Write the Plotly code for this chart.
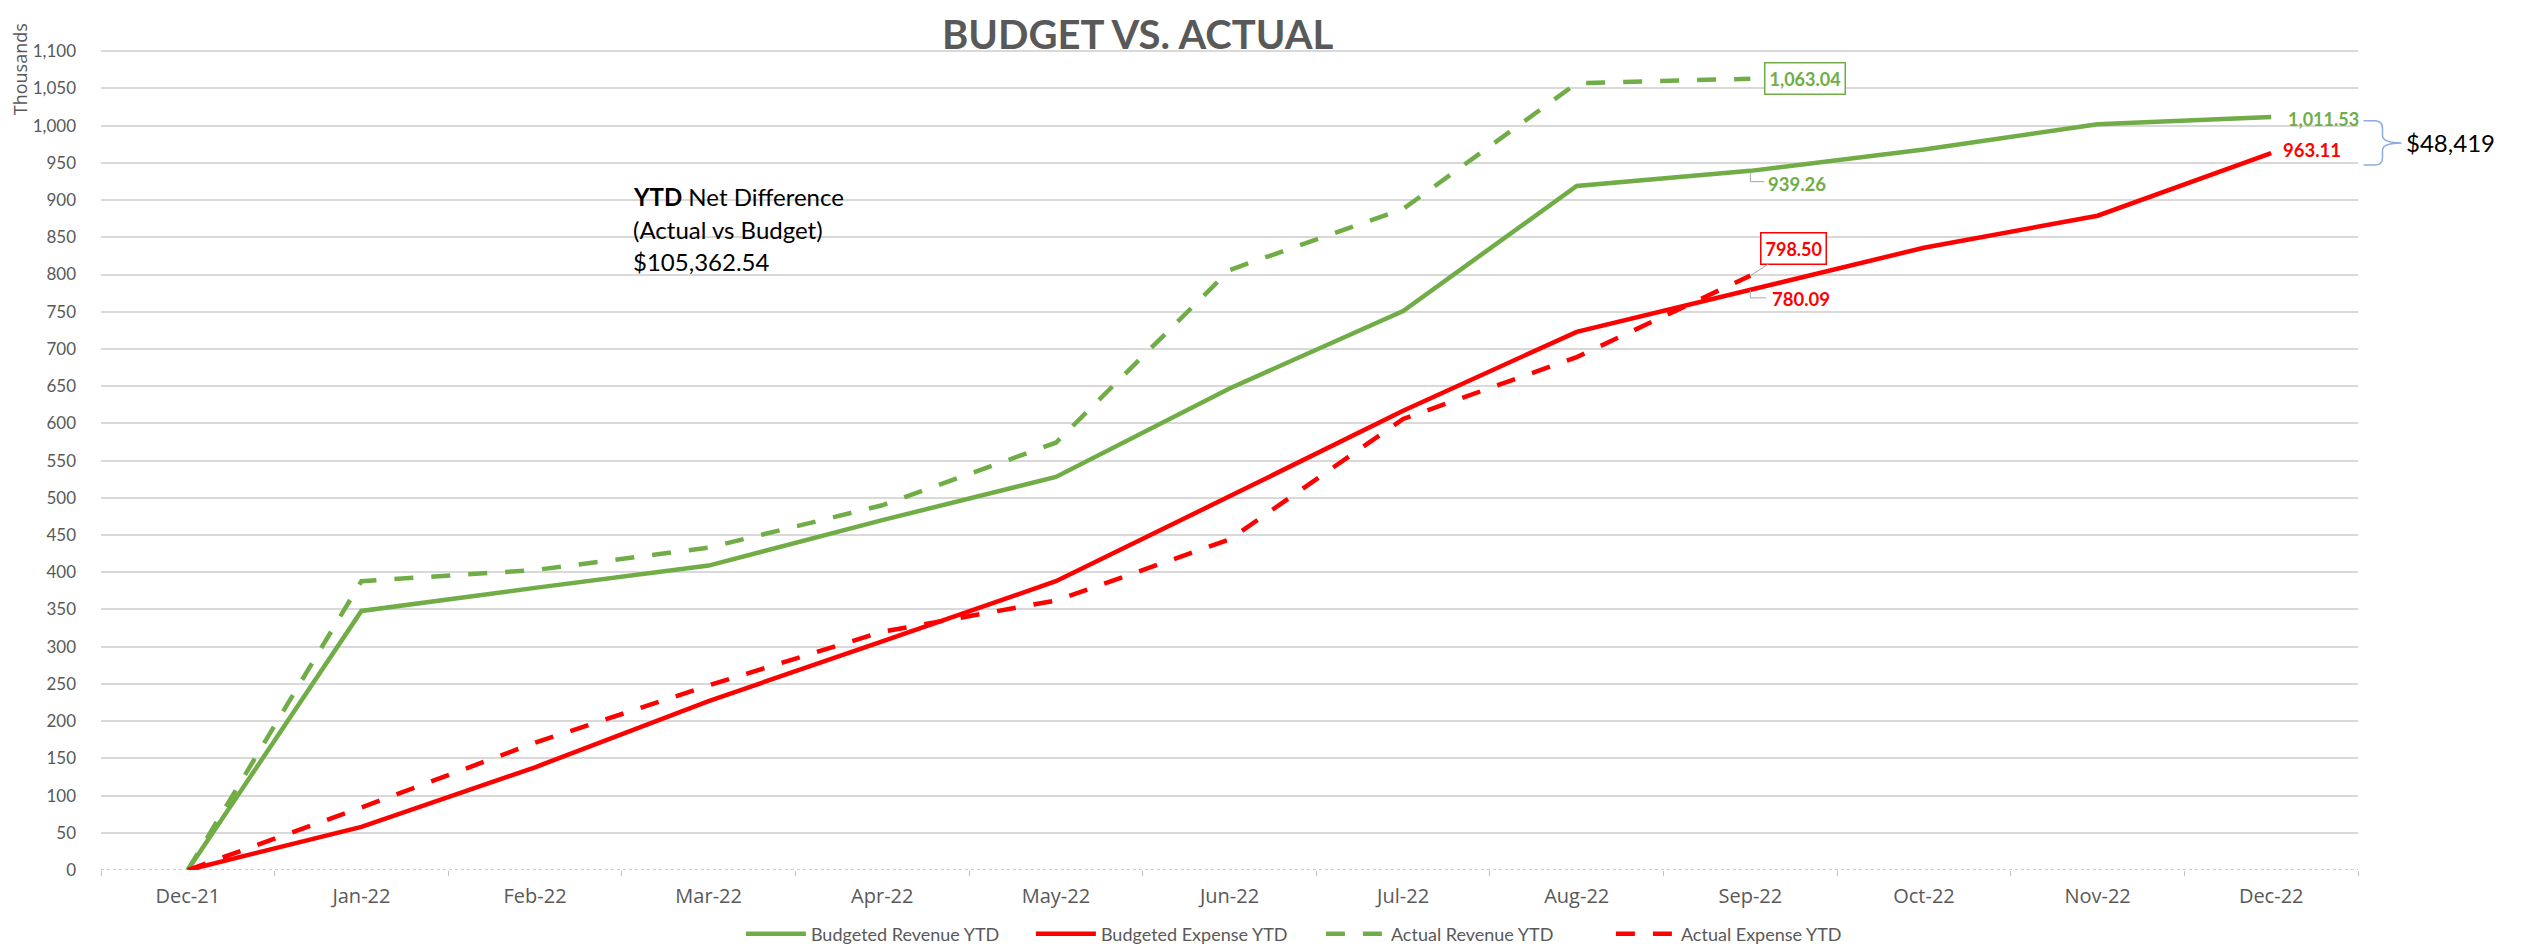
import plotly.graph_objects as go

months = ["Dec-21", "Jan-22", "Feb-22", "Mar-22", "Apr-22", "May-22", "Jun-22",
          "Jul-22", "Aug-22", "Sep-22", "Oct-22", "Nov-22", "Dec-22"]
budget_rev = [0, 348, 379, 409, 470, 528, 647, 751, 919, 939.26, 968, 1002, 1011.53]
budget_exp = [0, 58, 138, 227, 307, 388, 502, 617, 723, 780.09, 836, 879, 963.11]
actual_rev = [0, 388, 403, 433, 490, 574, 806, 888, 1057, 1063.04]
actual_exp = [0, 84, 171, 248, 320, 362, 444, 606, 689, 798.50]

net_diff_text = "$105,362.54"
year_end_gap = "$48,419"

GREEN = "#70AD47"
RED = "#FF0000"
GRAY = "#595959"
FONT = "Lato, 'Open Sans', sans-serif"

fig = go.Figure()
fig.add_trace(go.Scatter(x=months, y=budget_rev, name="Budgeted Revenue YTD", mode="lines",
                         line=dict(color=GREEN, width=4.5)))
fig.add_trace(go.Scatter(x=months, y=budget_exp, name="Budgeted Expense YTD", mode="lines",
                         line=dict(color=RED, width=4.5)))
fig.add_trace(go.Scatter(x=months[:len(actual_rev)], y=actual_rev, name="Actual Revenue YTD", mode="lines",
                         line=dict(color=GREEN, width=4.5, dash="19px,18px")))
fig.add_trace(go.Scatter(x=months[:len(actual_exp)], y=actual_exp, name="Actual Expense YTD", mode="lines",
                         line=dict(color=RED, width=4.5, dash="19px,18px")))

sep = months[9]
dec = months[-1]
ann = []
# title
ann.append(dict(text="<b>BUDGET VS. ACTUAL</b>", x=0.4595, y=1.0074, xref="paper", yref="paper",
                xanchor="center", yanchor="top", showarrow=False,
                font=dict(family=FONT, size=40, color=GRAY)))
# y axis title
ann.append(dict(text="Thousands", x=-0.0361, y=0.9349, xref="paper", yref="paper", textangle=-90,
                xanchor="center", yanchor="middle", showarrow=False,
                font=dict(family="'Open Sans', sans-serif", size=18, color=GRAY)))
# YTD net difference text block
for txt, yp in [("<b>YTD</b> Net Difference", 0.7865), ("(Actual vs Budget)", 0.748), (net_diff_text, 0.7105)]:
    ann.append(dict(text=txt, x=0.2349, y=yp, xref="paper", yref="paper", xanchor="left", yanchor="middle",
                    showarrow=False, font=dict(family=FONT, size=24, color="#000000")))
# data labels
ann.append(dict(text="<b>1,063.04</b>", x=sep, y=actual_rev[9], xanchor="center", yanchor="middle",
                xshift=55, showarrow=False, bordercolor=GREEN, borderwidth=1.5, borderpad=4,
                bgcolor="white", font=dict(family=FONT, size=18, color=GREEN)))
ann.append(dict(text="<b>939.26</b>", x=sep, y=budget_rev[9], xanchor="left", yanchor="middle",
                xshift=16, yshift=-12.8, showarrow=False, font=dict(family=FONT, size=18.5, color=GREEN)))
ann.append(dict(text="<b>798.50</b>", x=sep, y=actual_exp[9], ax=43, ay=-27.5, showarrow=True,
                arrowhead=0, arrowwidth=1, arrowcolor="#a6a6a6", standoff=0,
                bordercolor=RED, borderwidth=1.5, borderpad=4, bgcolor="white",
                font=dict(family=FONT, size=18, color=RED)))
ann.append(dict(text="<b>780.09</b>", x=sep, y=budget_exp[9], xanchor="left", yanchor="middle",
                xshift=20, yshift=-9.4, showarrow=False, font=dict(family=FONT, size=18.5, color=RED)))
ann.append(dict(text="<b>1,011.53</b>", x=dec, y=budget_rev[-1], xanchor="left", yanchor="middle",
                xshift=15, yshift=-1.6, showarrow=False, font=dict(family=FONT, size=18, color=GREEN)))
ann.append(dict(text="<b>963.11</b>", x=dec, y=budget_exp[-1], xanchor="left", yanchor="middle",
                xshift=10, yshift=3.4, showarrow=False, font=dict(family=FONT, size=18.5, color=RED)))
ann.append(dict(text=year_end_gap, x=dec, y=(budget_rev[-1] + budget_exp[-1]) / 2, xanchor="left",
                yanchor="middle", xshift=133, yshift=-7, showarrow=False,
                font=dict(family=FONT, size=24, color="#000000")))

shapes = []
# dotted category axis line at zero
shapes.append(dict(type="line", xref="paper", yref="y", x0=0, x1=1, y0=0, y1=0, layer="between",
                   line=dict(color="white", width=3)))
shapes.append(dict(type="line", xref="paper", yref="y", x0=0, x1=1, y0=0, y1=0, layer="between",
                   line=dict(color="#bfbfbf", width=1.5, dash="dot")))
# leader elbows
v = budget_rev[9]
shapes.append(dict(type="path", xref="x", yref="y", xsizemode="pixel", xanchor=sep,
                   path=f"M0,{v-2} L0,{v-14.5} L14,{v-14.5}", line=dict(color="#a6a6a6", width=1)))
v = budget_exp[9]
shapes.append(dict(type="path", xref="x", yref="y", xsizemode="pixel", xanchor=sep,
                   path=f"M0,{v-1} L0,{v-11.5} L16,{v-11.5}", line=dict(color="#a6a6a6", width=1)))
# curly brace for year-end gap (right of plot area, anchored to paper right edge)
top = budget_rev[-1] - 5
bot = budget_exp[-1] - 16
mid = (top + bot) / 2
q = (top - bot) / 6
shapes.append(dict(type="path", xref="paper", yref="y", xsizemode="pixel", xanchor=1,
                   path=(f"M5.5,{top} L16.5,{top} Q24.5,{top} 24.5,{top-q} L24.5,{mid+q} "
                         f"Q24.5,{mid} 43.5,{mid} Q24.5,{mid} 24.5,{mid-q} L24.5,{bot+q} "
                         f"Q24.5,{bot} 16.5,{bot} L5.5,{bot}"),
                   line=dict(color="#8faadc", width=1.5)))

fig.update_layout(
    width=2518, height=939, autosize=False,
    margin=dict(l=92.5, r=167.5, t=6.3, b=77, pad=0, autoexpand=False),
    paper_bgcolor="white", plot_bgcolor="white",
    font=dict(family=FONT, color=GRAY),
    annotations=ann, shapes=shapes,
    showlegend=True,
    legend=dict(orientation="h", x=0.5405, xanchor="center", y=-0.0748, yanchor="middle",
                itemwidth=60, entrywidth=215,
                font=dict(family=FONT, size=18, color=GRAY), bgcolor="rgba(0,0,0,0)",
                traceorder="normal"),
    xaxis=dict(type="category", categoryorder="array", categoryarray=months, range=[-0.5, 12.5],
               autorange=False, automargin=False,
               showgrid=False, showline=False, zeroline=False,
               ticks="outside", tickson="boundaries", ticklen=5, tickcolor="#bfbfbf", tickwidth=1,
               ticklabelstandoff=12,
               tickfont=dict(family="'Open Sans', sans-serif", size=20, color=GRAY)),
    yaxis=dict(range=[0, 1150], autorange=False, automargin=False, dtick=50, tickformat=",d",
               showgrid=True, gridcolor="#d9d9d9",
               gridwidth=1.5, zeroline=False, showline=False, ticks="", ticklabelstandoff=24,
               tickfont=dict(family=FONT, size=17, color=GRAY)),
)

fig.write_html("out.html")
